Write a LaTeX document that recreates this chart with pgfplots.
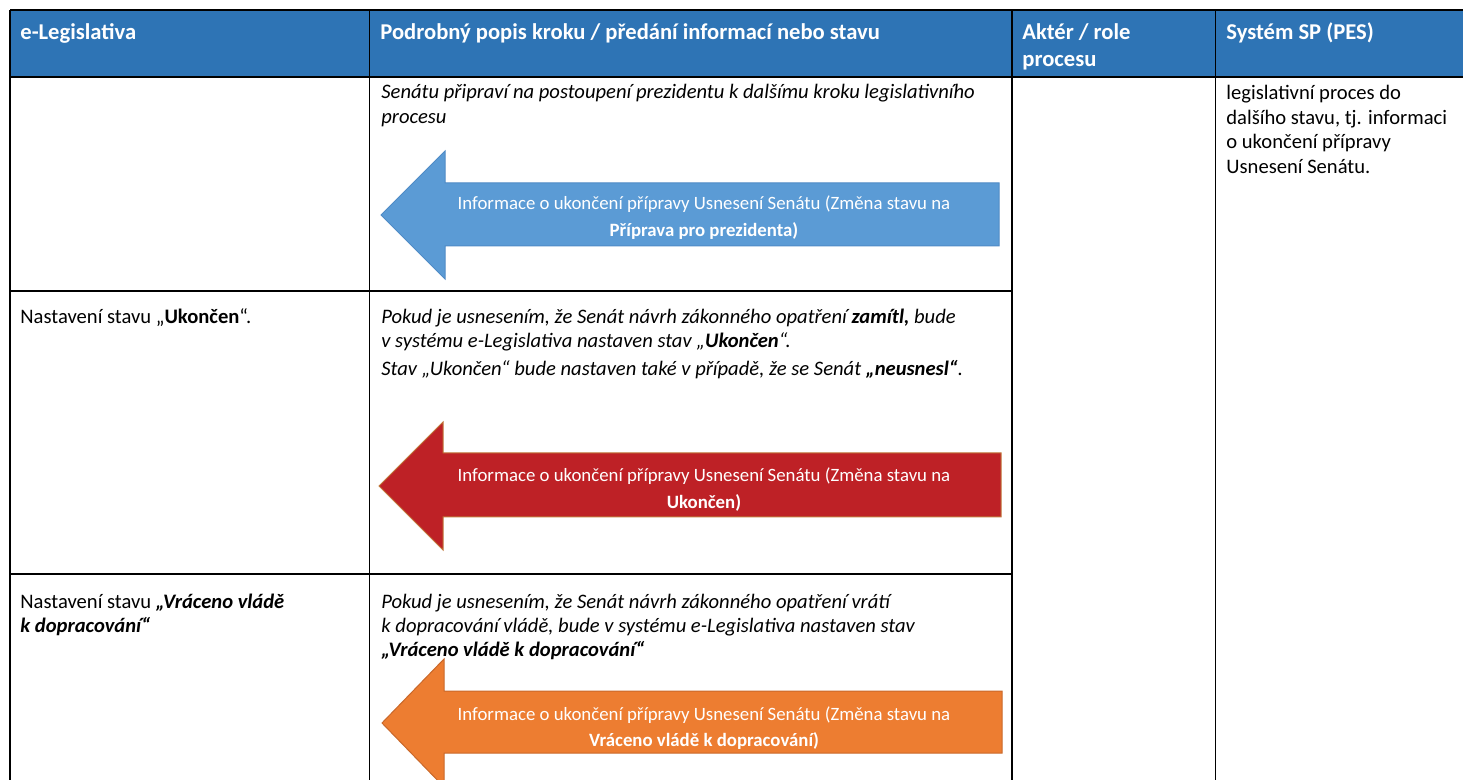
\documentclass[border=0pt]{standalone}
\usepackage{fontspec}
\setmainfont{Carlito}
\usepackage{pgfplots}
\pgfplotsset{compat=1.18}
\definecolor{hdr}{HTML}{2E74B5}
\definecolor{bluearrow}{HTML}{5B9BD5}
\definecolor{bluebord}{HTML}{4F8BC6}
\definecolor{redarrow}{HTML}{BE2126}
\definecolor{redbord}{HTML}{C0763A}
\definecolor{orarrow}{HTML}{ED7D31}
\definecolor{orbord}{HTML}{C9682A}
\definecolor{grid}{HTML}{1A1A1A}
\newcommand{\bodyfont}{\fontsize{10.3}{12}\selectfont}
\newcommand{\hdrfont}{\fontsize{11.3}{14}\selectfont\bfseries}
\newcommand{\arrfont}{\fontsize{9.4}{13}\selectfont}
\begin{document}
\begin{tikzpicture}
\begin{axis}[scale only axis, width=731.5pt, height=390pt,
  xmin=0, xmax=1463, ymin=0, ymax=780, y dir=reverse,
  hide axis, clip=true]
\path (axis cs:0,0) rectangle (axis cs:1463,780);
% header background
\addplot[fill=hdr, draw=none] coordinates {(10,10) (1463,10) (1463,77) (10,77)} -- cycle;
% arrows
\addplot[fill=bluearrow, draw=bluebord, line width=0.5pt] coordinates {
  (381,215) (445,151) (445,183) (999,183) (999,246) (445,246) (445,279)} -- cycle;
\addplot[fill=redarrow, draw=redbord, line width=0.5pt] coordinates {
  (379,486) (443,422) (443,453) (1001,453) (1001,517) (443,517) (443,550)} -- cycle;
\addplot[fill=orarrow, draw=orbord, line width=0.5pt] coordinates {
  (382,723) (444,659) (444,691) (1002,691) (1002,753) (444,753) (444,787)} -- cycle;
% grid lines
\addplot[grid, line width=0.55pt] coordinates {(10,10) (1463,10)};
\addplot[grid, line width=0.55pt] coordinates {(10,77) (1463,77)};
\addplot[grid, line width=0.55pt] coordinates {(10,291) (1012,291)};
\addplot[grid, line width=0.55pt] coordinates {(10,574) (1012,574)};
\addplot[grid, line width=0.55pt] coordinates {(10,10) (10,790)};
\addplot[grid, line width=0.55pt] coordinates {(369.5,10) (369.5,790)};
\addplot[grid, line width=0.55pt] coordinates {(1012,10) (1012,790)};
\addplot[grid, line width=0.55pt] coordinates {(1215.5,10) (1215.5,790)};
% header text
\node[anchor=base west, text=white, font=\hdrfont, inner sep=0pt] at (axis cs:20,40) {e-Legislativa};
\node[anchor=base west, text=white, font=\hdrfont, inner sep=0pt] at (axis cs:380,40) {Podrobný popis kroku / předání informací nebo stavu};
\node[anchor=base west, text=white, font=\hdrfont, inner sep=0pt] at (axis cs:1022,40) {Aktér / role};
\node[anchor=base west, text=white, font=\hdrfont, inner sep=0pt] at (axis cs:1022,67) {procesu};
\node[anchor=base west, text=white, font=\hdrfont, inner sep=0pt] at (axis cs:1226,40) {Systém SP (PES)};
% row 1
\node[anchor=base west, font=\bodyfont\itshape, inner sep=0pt] at (axis cs:381,99) {Senátu připraví na postoupení prezidentu k dalšímu kroku legislativního};
\node[anchor=base west, font=\bodyfont\itshape, inner sep=0pt] at (axis cs:381,124) {procesu};
\node[anchor=base west, font=\bodyfont, inner sep=0pt] at (axis cs:1226,100) {legislativní proces do};
\node[anchor=base west, font=\bodyfont, inner sep=0pt] at (axis cs:1226,124.5) {dalšího stavu, tj. informaci};
\node[anchor=base west, font=\bodyfont, inner sep=0pt] at (axis cs:1226,149) {o ukončení přípravy};
\node[anchor=base west, font=\bodyfont, inner sep=0pt] at (axis cs:1226,173.5) {Usnesení Senátu.};
\node[anchor=base, text=white, font=\arrfont, inner sep=0pt] at (axis cs:704,210) {Informace o ukončení přípravy Usnesení Senátu (Změna stavu na};
\node[anchor=base, text=white, font=\arrfont\bfseries, inner sep=0pt] at (axis cs:704,237) {Příprava pro prezidenta)};
% row 2
\node[anchor=base west, font=\bodyfont, inner sep=0pt] at (axis cs:20,323.5) {Nastavení stavu „\textbf{Ukončen}“.};
\node[anchor=base west, font=\bodyfont\itshape, inner sep=0pt] at (axis cs:381,323.5) {Pokud je usnesením, že Senát návrh zákonného opatření \textbf{zamítl,} bude};
\node[anchor=base west, font=\bodyfont\itshape, inner sep=0pt] at (axis cs:381,347.5) {v systému e-Legislativa nastaven stav „\textbf{Ukončen}“.};
\node[anchor=base west, font=\bodyfont\itshape, inner sep=0pt] at (axis cs:381,376) {Stav „Ukončen“ bude nastaven také v případě, že se Senát \textbf{„neusnesl“}.};
\node[anchor=base, text=white, font=\arrfont, inner sep=0pt] at (axis cs:704,482) {Informace o ukončení přípravy Usnesení Senátu (Změna stavu na};
\node[anchor=base, text=white, font=\arrfont\bfseries, inner sep=0pt] at (axis cs:704,509) {Ukončen)};
% row 3
\node[anchor=base west, font=\bodyfont, inner sep=0pt] at (axis cs:20,608.5) {Nastavení stavu \textbf{\textit{„Vráceno vládě}}};
\node[anchor=base west, font=\bodyfont\bfseries\itshape, inner sep=0pt] at (axis cs:20,632.5) {k dopracování“};
\node[anchor=base west, font=\bodyfont\itshape, inner sep=0pt] at (axis cs:381,608.5) {Pokud je usnesením, že Senát návrh zákonného opatření vrátí};
\node[anchor=base west, font=\bodyfont\itshape, inner sep=0pt] at (axis cs:381,632.5) {k dopracování vládě, bude v systému e-Legislativa nastaven stav};
\node[anchor=base west, font=\bodyfont\bfseries\itshape, inner sep=0pt] at (axis cs:381,656.5) {„Vráceno vládě k dopracování“};
\node[anchor=base, text=white, font=\arrfont, inner sep=0pt] at (axis cs:704,720) {Informace o ukončení přípravy Usnesení Senátu (Změna stavu na};
\node[anchor=base, text=white, font=\arrfont\bfseries, inner sep=0pt] at (axis cs:704,747) {Vráceno vládě k dopracování)};
\end{axis}
\end{tikzpicture}
\end{document}
